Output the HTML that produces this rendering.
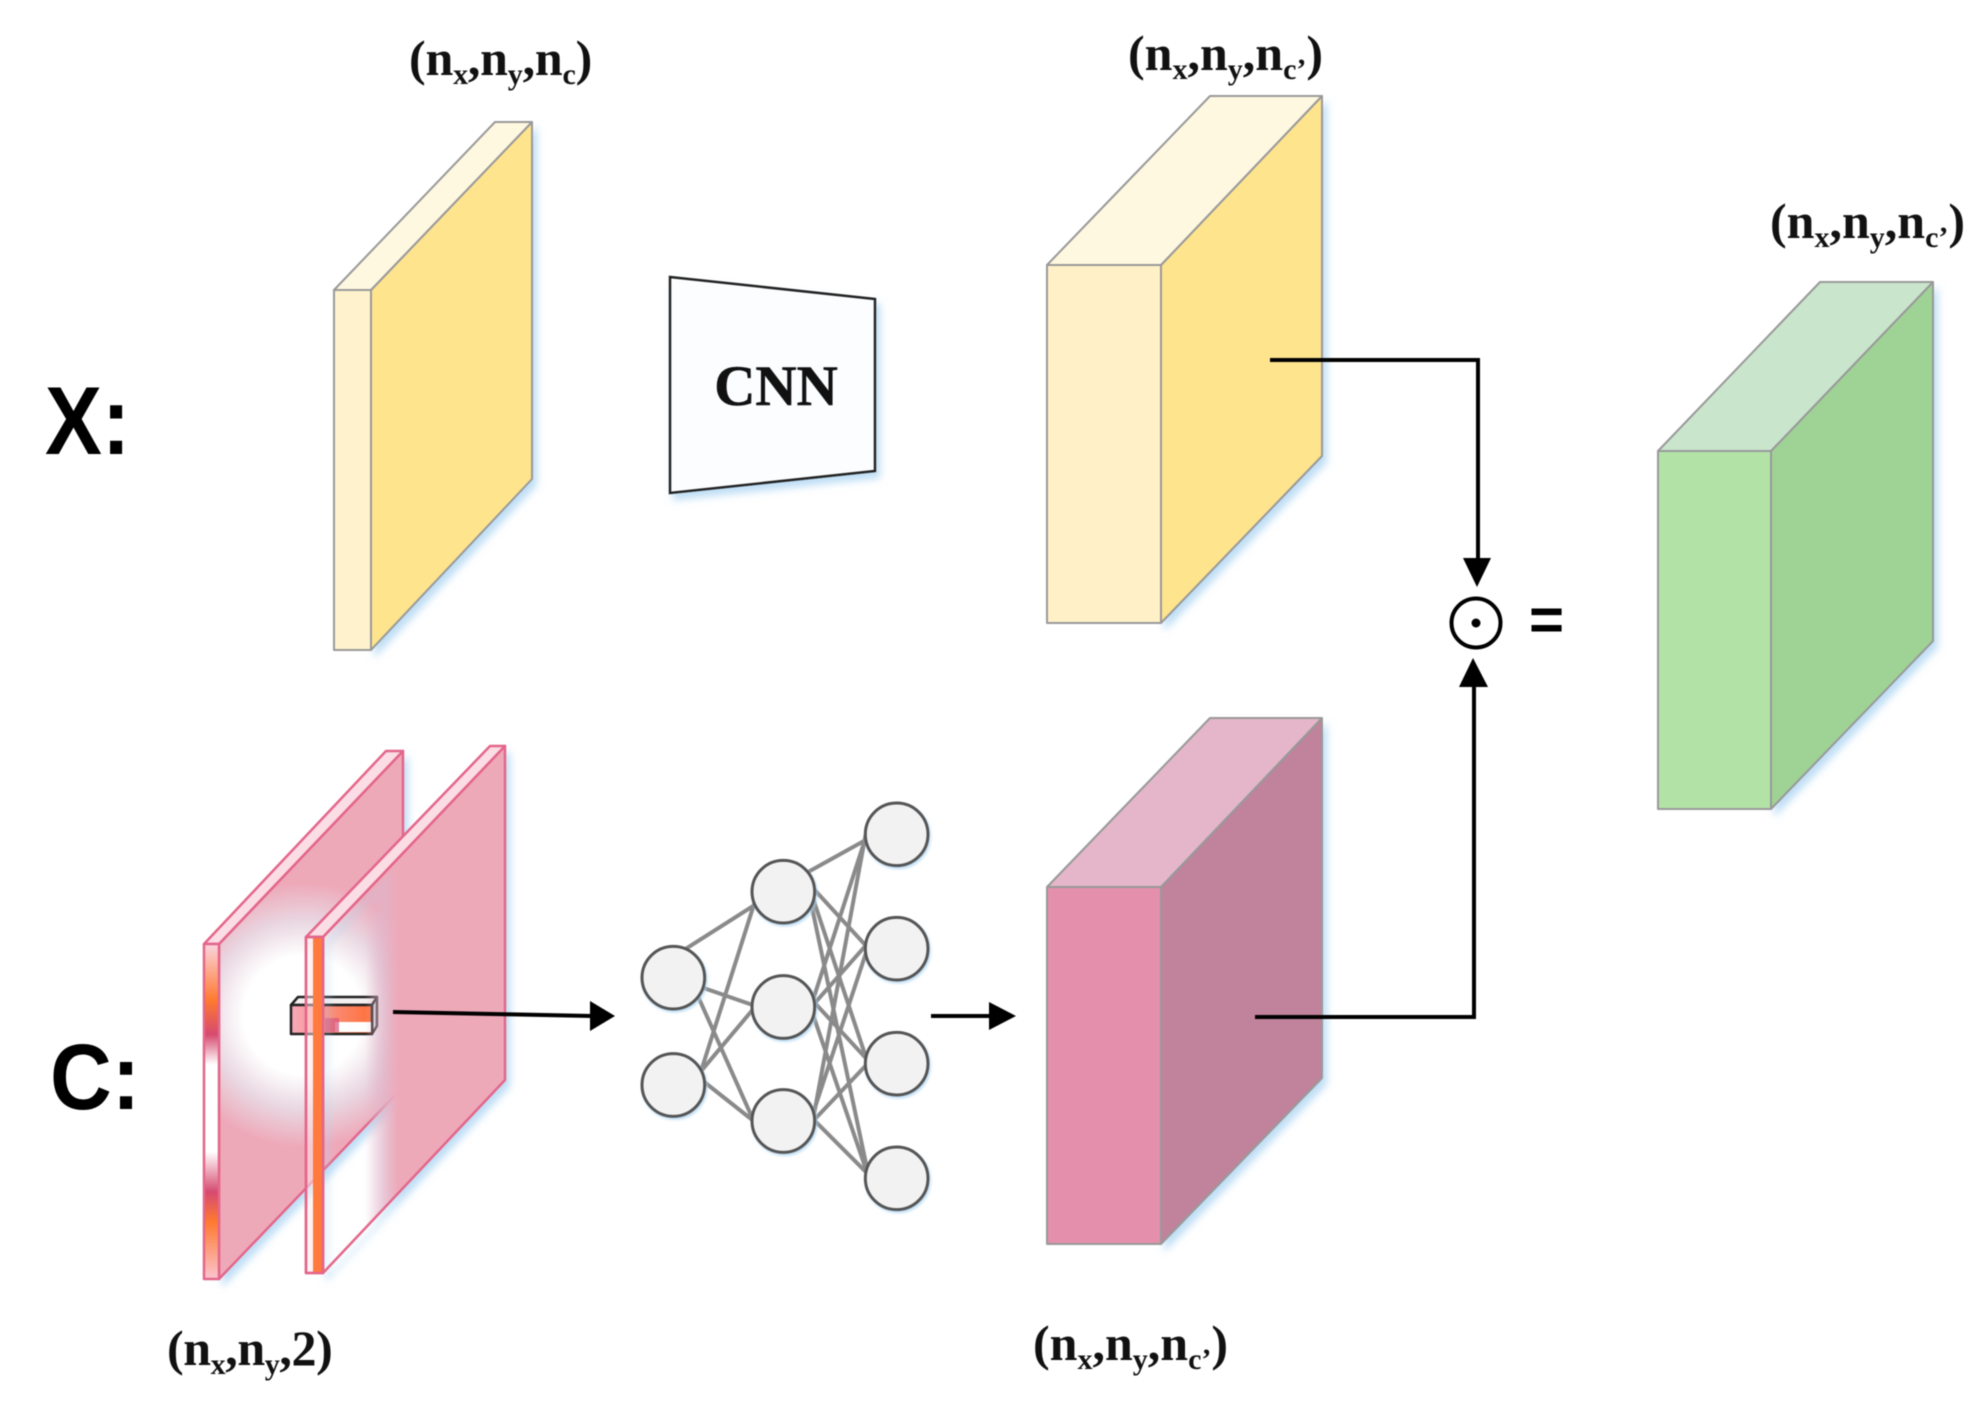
<!DOCTYPE html>
<html>
<head>
<meta charset="utf-8">
<style>
html,body{margin:0;padding:0;background:#fff;width:1986px;height:1405px;overflow:hidden}
svg{display:block;filter:blur(0.5px)}
.l{font-family:"Liberation Serif",serif;font-weight:bold;font-size:50px;fill:#111}
.s{font-size:30px}
.h{font-family:"Liberation Sans",sans-serif;font-weight:bold;fill:#000}
</style>
</head>
<body>
<svg width="1986" height="1405" viewBox="0 0 1986 1405" xmlns="http://www.w3.org/2000/svg">
<defs>
<filter id="sh" x="-20%" y="-20%" width="140%" height="140%"><feDropShadow dx="4" dy="6" stdDeviation="4" flood-color="#a9d3f2" flood-opacity="0.75"/></filter>
<radialGradient id="rad" gradientUnits="userSpaceOnUse" cx="303" cy="1015" r="132">
<stop offset="0" stop-color="#fff"/><stop offset="0.45" stop-color="#fff"/><stop offset="0.72" stop-color="#e9d6e0"/><stop offset="1" stop-color="#eea9b9"/>
</radialGradient>
<linearGradient id="planeB" gradientUnits="userSpaceOnUse" x1="365" y1="0" x2="398" y2="0">
<stop offset="0" stop-color="#eea9b9" stop-opacity="0"/><stop offset="1" stop-color="#eea9b9" stop-opacity="1"/>
</linearGradient>
<linearGradient id="stripA" gradientUnits="userSpaceOnUse" x1="0" y1="944" x2="0" y2="1279">
<stop offset="0" stop-color="#fbd5e0"/>
<stop offset="0.167" stop-color="#ff7a30"/>
<stop offset="0.27" stop-color="#d64a70"/>
<stop offset="0.36" stop-color="#fff"/>
<stop offset="0.62" stop-color="#fff"/>
<stop offset="0.74" stop-color="#d64a70"/>
<stop offset="0.83" stop-color="#ff7a30"/>
<stop offset="1" stop-color="#fbc5d0"/>
</linearGradient>
<linearGradient id="boxH" gradientUnits="userSpaceOnUse" x1="291" y1="0" x2="372" y2="0">
<stop offset="0" stop-color="#f7a9bb"/><stop offset="0.5" stop-color="#fb8c78"/><stop offset="1" stop-color="#ff7038"/>
</linearGradient>
</defs>
<rect width="1986" height="1405" fill="#fff"/>

<!-- labels -->
<text class="l" x="409" y="75" letter-spacing="-0.2">(n<tspan class="s" dy="9">x</tspan><tspan dy="-9">,n</tspan><tspan class="s" dy="9">y</tspan><tspan dy="-9">,n</tspan><tspan class="s" dy="9">c</tspan><tspan dy="-9">)</tspan></text>
<text class="l" x="1128" y="70">(n<tspan class="s" dy="9">x</tspan><tspan dy="-9">,n</tspan><tspan class="s" dy="9">y</tspan><tspan dy="-9">,n</tspan><tspan class="s" dy="9">c’</tspan><tspan dy="-9">)</tspan></text>
<text class="l" x="1770" y="238">(n<tspan class="s" dy="9">x</tspan><tspan dy="-9">,n</tspan><tspan class="s" dy="9">y</tspan><tspan dy="-9">,n</tspan><tspan class="s" dy="9">c’</tspan><tspan dy="-9">)</tspan></text>
<text class="l" x="167" y="1365" letter-spacing="-0.4">(n<tspan class="s" dy="9">x</tspan><tspan dy="-9">,n</tspan><tspan class="s" dy="9">y</tspan><tspan dy="-9">,2)</tspan></text>
<text class="l" x="1033" y="1360">(n<tspan class="s" dy="9">x</tspan><tspan dy="-9">,n</tspan><tspan class="s" dy="9">y</tspan><tspan dy="-9">,n</tspan><tspan class="s" dy="9">c’</tspan><tspan dy="-9">)</tspan></text>

<text class="h" transform="translate(45,454) scale(0.88,1)" font-size="97">X:</text>
<text class="h" transform="translate(50,1109) scale(0.92,1)" font-size="93">C:</text>

<!-- thin yellow block -->
<g stroke="#999" stroke-width="2" stroke-linejoin="round">
<g filter="url(#sh)">
<polygon points="371,290 532,122 532,479 371,650" fill="#ffe48e"/>
</g>
<polygon points="334,290 495,122 532,122 371,290" fill="#fff8e0"/>
<polygon points="334,290 371,290 371,650 334,650" fill="#fff2cc"/>

<!-- yellow block -->
<g filter="url(#sh)">
<polygon points="1161,265 1322,96 1322,456 1161,623" fill="#ffe48e"/>
</g>
<polygon points="1047,265 1210,96 1322,96 1161,265" fill="#fff8e0"/>
<polygon points="1047,265 1161,265 1161,623 1047,623" fill="#fff0c8"/>

<!-- pink block -->
<g filter="url(#sh)">
<polygon points="1161,887 1322,718 1322,1078 1161,1244" fill="#c0839b"/>
</g>
<polygon points="1047,887 1210,718 1322,718 1161,887" fill="#e5b6c9"/>
<polygon points="1047,887 1161,887 1161,1244 1047,1244" fill="#e48fab"/>

<!-- green block -->
<g filter="url(#sh)">
<polygon points="1771,451 1933,282 1933,641 1771,809" fill="#9fd395"/>
</g>
<polygon points="1658,451 1820,282 1933,282 1771,451" fill="#c9e6cc"/>
<polygon points="1658,451 1771,451 1771,809 1658,809" fill="#b3e2a7"/>
</g>

<!-- CNN -->
<polygon points="670,277 875,299 875,471 670,493" fill="#fbfdfe" stroke="#222" stroke-width="2.5" filter="url(#sh)"/>
<text x="776" y="405" text-anchor="middle" font-family="'Liberation Serif',serif" font-weight="bold" font-size="57" fill="#111" stroke="#111" stroke-width="0.6">CNN</text>

<!-- plane A -->
<g stroke="#e4668a" stroke-width="2.5" stroke-linejoin="round">
<polygon points="219,944 403,751 403,1087 219,1279" fill="url(#rad)" filter="url(#sh)"/>
<polygon points="204,944 386,751 403,751 219,944" fill="#fbdde5"/>
<rect x="204" y="944" width="15" height="335" fill="url(#stripA)"/>

<!-- small box -->
<g stroke="#222" stroke-width="2.5">
<polygon points="291,1005 298,997 377,997 372,1005" fill="#f4f0f0"/>
<polygon points="372,1005 377,997 377,1026 372,1034" fill="#d5d8dc"/>
<rect x="291" y="1005" width="81" height="29" fill="url(#boxH)"/>
</g>
<rect x="335" y="1022" width="36" height="10" fill="#fff" stroke="none"/>
<rect x="325" y="1018" width="14" height="14" fill="#d8527a" stroke="none" opacity="0.7"/>

<!-- plane B -->
<polygon points="323,937 505,746 505,1080 323,1273" fill="url(#planeB)" filter="url(#sh)"/>
<polygon points="306,937 490,746 505,746 323,937" fill="#fbdde5"/>
<rect x="306" y="937" width="17" height="336" fill="#fde9ee" fill-opacity="0.5"/>
<rect x="313" y="937" width="10" height="336" fill="#ff7a3c" stroke="none"/>
<rect x="306" y="937" width="17" height="336" fill="none"/>
</g>

<!-- neural net -->
<g transform="translate(620,781) scale(0.33333)">
<g stroke="#8a8a8a" stroke-width="12" fill="none">
<path d="M195 505L415 365M230 637L410 1040M225 612L410 676M240 880L410 345M225 892L420 660M230 885L420 1035"/>
<path d="M550 281L750 170M550 290L758 516M555 280L755 880M555 280L750 1205"/>
<path d="M565 700L750 130M565 688L758 470M565 645L755 850M565 660L755 1215"/>
<path d="M570 1065L737 160M565 1040L758 455M565 1035L755 835M565 1000L755 1190"/>
</g>
<g fill="#f2f2f2" stroke="#555" stroke-width="9">
<g filter="url(#sh)"><circle cx="160" cy="590" r="94"/></g>
<g filter="url(#sh)"><circle cx="160" cy="912" r="94"/></g>
<g filter="url(#sh)"><circle cx="490" cy="332" r="94"/></g>
<g filter="url(#sh)"><circle cx="490" cy="678" r="94"/></g>
<g filter="url(#sh)"><circle cx="490" cy="1020" r="94"/></g>
<g filter="url(#sh)"><circle cx="830" cy="160" r="94"/></g>
<g filter="url(#sh)"><circle cx="830" cy="503" r="94"/></g>
<g filter="url(#sh)"><circle cx="830" cy="848" r="94"/></g>
<g filter="url(#sh)"><circle cx="830" cy="1192" r="94"/></g>
</g>
</g>

<!-- arrows -->
<g fill="none" stroke="#000" stroke-width="4">
<path d="M393 1012L592 1016"/>
<path d="M931 1016L992 1016"/>
<path d="M1270 360H1478V560"/>
<path d="M1255 1017H1474V685"/>
</g>
<polygon points="590,1001 615,1016 590,1031" fill="#000"/>
<polygon points="989,1002 1016,1016 989,1030" fill="#000"/>
<polygon points="1463,558 1491,558 1477,587" fill="#000"/>
<polygon points="1459,687 1488,687 1473,658" fill="#000"/>

<!-- operator -->
<circle cx="1476" cy="623" r="24.5" fill="none" stroke="#000" stroke-width="4"/>
<circle cx="1476" cy="623" r="4.5" fill="#000"/>
<text class="h" x="1529" y="640" font-size="60">=</text>
</svg>
</body>
</html>
